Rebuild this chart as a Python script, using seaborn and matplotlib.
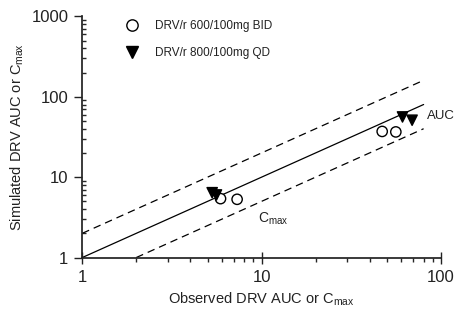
import numpy as np
import pandas as pd
import matplotlib
matplotlib.use('Agg')
import matplotlib.pyplot as plt
import matplotlib.ticker as mticker
import seaborn as sns

# Observed vs simulated DRV exposure
bid_obs = [5.9, 7.3, 47, 56]
bid_sim = [5.4, 5.3, 37, 36.5]
qd_obs = [5.3, 5.6, 61, 69]
qd_sim = [6.4, 6.0, 56, 51]
groups = ['DRV/r 600/100mg BID', 'DRV/r 800/100mg QD']

df = pd.DataFrame({
    'observed': bid_obs + qd_obs,
    'simulated': bid_sim + qd_sim,
    'regimen': [groups[0]] * len(bid_obs) + [groups[1]] * len(qd_obs),
})

sns.set_theme(style='ticks')
plt.rcParams['font.family'] = ['Liberation Sans', 'DejaVu Sans']

fig, ax = plt.subplots(figsize=(4.57, 3.26), dpi=100)
fig.subplots_adjust(left=0.18, right=0.965, top=0.95, bottom=0.21)

# line of unity and 2-fold boundaries
x_line = np.array([1, 80])
ax.plot(x_line, x_line, color='black', lw=0.9)
ax.plot(x_line, x_line * 2, color='black', lw=0.9, ls=(0, (6, 4)))
ax.plot([2, 80], [1, 40], color='black', lw=0.9, ls=(0, (6, 4)))

sns.scatterplot(data=df, x='observed', y='simulated', hue='regimen', style='regimen',
                markers={groups[0]: 'o', groups[1]: 'v'},
                palette={groups[0]: 'white', groups[1]: 'black'},
                edgecolor='black', linewidth=1.0, s=55, ax=ax, zorder=3)

ax.set_xscale('log')
ax.set_yscale('log')
ax.set_xlim(1, 100)
ax.set_ylim(1, 1000)
ax.xaxis.set_major_formatter(mticker.FuncFormatter(lambda v, p: f'{v:g}'))
ax.yaxis.set_major_formatter(mticker.FuncFormatter(lambda v, p: f'{v:g}'))
ax.tick_params(axis='both', which='major', labelsize=12, length=6, width=1, pad=4,
               colors='#222222')
ax.tick_params(axis='x', which='minor', direction='out', length=3, width=1)
ax.tick_params(axis='y', which='minor', direction='in', length=3, width=1)
ax.tick_params(axis='y', which='major', direction='out')
ax.tick_params(axis='x', which='major', direction='inout', length=8, pad=5)
for s in ['left', 'bottom']:
    ax.spines[s].set_color('#222222')
sns.despine(ax=ax)

ax.set_xlabel('Observed DRV AUC or C$_{\\mathregular{max}}$', fontsize=10.5, color='#222222')
ax.set_ylabel('Simulated DRV AUC or C$_{\\mathregular{max}}$', fontsize=10.5, color='#222222')

ax.text(83, 58, 'AUC', fontsize=9.5, ha='left', va='center', clip_on=False, color='#222222')
ax.text(9.5, 3.0, 'C$_{\\mathregular{max}}$', fontsize=10, ha='left', va='center',
        color='#222222')

leg = ax.legend(loc='upper left', bbox_to_anchor=(0.075, 1.03), frameon=False,
                fontsize=8.5, handletextpad=1.0, labelspacing=1.3, markerscale=1.1)
leg.set_title(None)
for t in leg.get_texts():
    t.set_color('#222222')

fig.savefig('out.png', dpi=100)
